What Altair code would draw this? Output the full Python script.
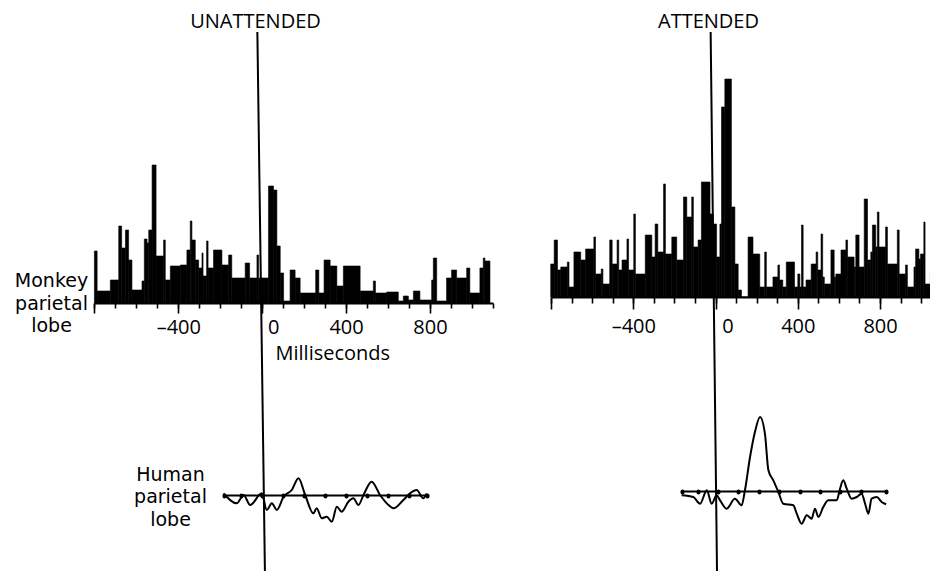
import altair as alt
import pandas as pd

FONT = "Open Sans"
SIDE_FONT = "DejaVu Sans"

# ---------------- data ----------------
# Monkey parietal lobe, UNATTENDED: histogram bins (ms start, ms end, height)
left_start = [-800, -787, -724, -684, -670, -652, -637, -621, -573, -562, -549, -541, -525, -506, -470, -462,
              -438, -390, -359, -343, -335, -319, -303, -287, -282, -265, -258, -232, -192, -160, -145, -81,
              -60, -25, -17, 30, 54, 70, 86, 102, 133, 157, 181, 255, 270, 295, 324, 356, 387, 467, 530, 540,
              594, 649, 673, 697, 721, 752, 808, 816, 832, 879, 903, 927, 975, 990, 1038, 1054, 1062]
left_end = [-787, -724, -684, -670, -652, -637, -621, -573, -562, -549, -541, -525, -506, -470, -462, -438,
            -390, -359, -343, -335, -319, -303, -287, -282, -265, -258, -232, -192, -160, -145, -81, -60,
            -25, -17, 30, 54, 70, 86, 102, 133, 157, 181, 255, 270, 295, 324, 356, 387, 467, 530, 540, 594,
            649, 673, 697, 721, 752, 808, 816, 832, 879, 903, 927, 975, 990, 1038, 1054, 1062, 1086]
left_val = [52, 12, 23, 77, 55, 73, 43, 13, 22, 64, 60, 73, 138, 47, 63, 23,
            37, 38, 53, 82, 63, 43, 35, 50, 27, 62, 35, 53, 38, 48, 25, 40,
            25, 48, 25, 117, 113, 57, 30, 2, 33, 25, 10, 33, 10, 43, 37, 17, 37, 12, 22, 10,
            11, 2, 7, 3, 12, 3, 23, 45, 2, 25, 33, 25, 35, 10, 35, 45, 42]

# Monkey parietal lobe, ATTENDED
right_start = [-802, -785, -769, -753, -721, -713, -689, -656, -632, -592, -584, -556, -548, -515, -503, -479,
               -471, -455, -431, -423, -398, -390, -342, -310, -294, -281, -253, -244, -213, -189, -156, -140,
               -116, -108, -85, -69, -27, -11, 5, 21, 29, 45, 77, 94, 110, 126, 158, 182, 215, 239, 247, 279,
               303, 311, 327, 344, 384, 400, 410, 418, 426, 440, 465, 489, 497, 513, 521, 529, 561, 577, 585,
               610, 634, 642, 674, 682, 698, 723, 739, 755, 763, 779, 787, 795, 827, 836, 884, 893, 924, 933,
               965, 973, 989, 997, 1013, 1019, 1045, 1053]
right_end = [-785, -769, -753, -721, -713, -689, -656, -632, -592, -584, -556, -548, -515, -503, -479, -471,
             -455, -431, -423, -398, -390, -342, -310, -294, -281, -253, -244, -213, -189, -156, -140, -116,
             -108, -85, -69, -27, -11, 5, 21, 29, 45, 77, 94, 110, 126, 158, 182, 215, 239, 247, 279, 303,
             311, 327, 344, 384, 400, 410, 418, 426, 440, 465, 489, 497, 513, 521, 529, 561, 577, 585, 610,
             634, 642, 674, 682, 698, 723, 739, 755, 763, 779, 787, 795, 827, 836, 884, 893, 924, 933, 965,
             973, 989, 997, 1013, 1019, 1045, 1053, 1076]
right_val = [33, 57, 27, 30, 35, 10, 45, 37, 48, 60, 23, 28, 13, 57, 33, 57,
             27, 37, 58, 27, 83, 23, 62, 40, 73, 45, 113, 43, 60, 37, 100, 80,
             100, 50, 57, 115, 83, 73, 40, 73, 190, 218, 90, 33, 7, 0, 60, 43, 10, 45, 10, 20,
             32, 17, 10, 35, 10, 23, 10, 72, 10, 17, 33, 45, 27, 63, 20, 13, 47, 20, 23,
             47, 57, 40, 30, 62, 30, 98, 37, 45, 72, 50, 85, 50, 70, 33, 67, 23, 32, 10,
             30, 48, 38, 43, 75, 13, 25, 35]

# Human parietal lobe ERP traces (ms, amplitude)
erp_left_t = [-184, -121, -89, -57, -2, 22, 46, 70, 102, 141, 173, 205, 244, 260, 284, 308, 332, 356, 379,
              411, 435, 459, 483, 522, 562, 602, 626, 673, 705, 737, 768, 784]
erp_left_v = [1.7, -8.3, 0, -10, 1.7, -15, -8.3, -15, -1.7, 5, 16.7, 0, -18.3, -13.3, -23.3, -21.7, -26.7,
              -11.7, -16.7, -6.7, -3.3, -10, 0, 13.3, 0, -10, -13.3, -5, 1.7, 5, -3.3, 1.7]
erp_right_t = [-178, -121, -88, -55, -31, -7, 10, 42, 83, 116, 132, 157, 181, 206, 230, 247, 271, 296, 320,
               369, 386, 410, 435, 459, 475, 492, 516, 541, 582, 598, 614, 631, 655, 680, 704, 721, 737, 753,
               778, 802, 824]
erp_right_v = [-4.3, -6, -12.7, 0.7, -12.7, -4.3, -9.3, -17.7, -7.7, -14.3, 0.7, 34, 59, 74, 57.3, 20.7,
               10.7, -1, -12.7, -14.3, -22.7, -32.7, -24.3, -27.7, -17.7, -26, -16, -9.3, -9.3, 2.3, 10.7,
               2.3, -7.7, -6, -2.7, -12.7, -22.7, -7.7, -6, -11, -13.3]

# stimulus-onset line (ms at top, ms at bottom of the scanned line)
vline_left = [-23, 13]
vline_right = [-24, 7]

panel_titles = ["UNATTENDED", "ATTENDED"]
minor_ticks = list(range(-800, 1101, 100))
major_ticks = [-800, -400, 0, 400, 800]
erp_left_dots = [-184, -100, 0, 100, 200, 300, 400, 500, 600, 700, 784]
erp_right_dots = [-178, -100, 0, 100, 200, 300, 400, 500, 600, 700, 824]

# ---------------- frames ----------------
W, H = 922, 563


def sc(domain, rng):
    return alt.Scale(domain=domain, range=rng, nice=False, zero=False)


LX = ([-800, 1100], [86.4, 484.9])
RX = ([-800, 1043], [543.1, 922.0])
LY = ([0, 150], [295, 145])
RY = ([0, 220], [289, 69])
LEX = ([-184, 784], [215.6, 418.6])
LEY = ([-30, 30], [517, 457])
REX = ([-178, 824], [673.7, 878.1])
REY = ([-40, 80], [523, 403])
FY = ([0, 1], [563, 24])

lb = pd.DataFrame({"s": left_start, "e": left_end, "v": left_val})
rb = pd.DataFrame({"s": right_start, "e": right_end, "v": right_val})
le = pd.DataFrame({"t": erp_left_t, "v": erp_left_v})
re_ = pd.DataFrame({"t": erp_right_t, "v": erp_right_v})
vl = pd.DataFrame({"a": [vline_left[0]], "b": [vline_left[1]]})
vr = pd.DataFrame({"a": [vline_right[0]], "b": [vline_right[1]]})

label_expr = "datum.value == -800 ? '' : (datum.value < 0 ? '\u2013' + abs(datum.value) : '' + datum.value)"


def minor_axis(base_y, tick, title=None):
    kw = dict(orient="bottom", offset=base_y - H, values=minor_ticks, tickSize=tick, tickWidth=1.6,
              tickColor="black", domainColor="black", domainWidth=2, labels=False, grid=False)
    if title:
        kw.update(title=title, titleX=267, titleY=56, titleAlign="left", titleBaseline="alphabetic",
                  titleFont=FONT, titleFontSize=20, titleFontWeight="normal", titleColor="black")
    else:
        kw.update(title=None)
    return alt.Axis(**kw)


def major_axis(base_y, tick, pad, zero_shift):
    return alt.Axis(orient="bottom", offset=base_y - H, values=major_ticks, tickSize=tick, tickWidth=1.6,
                    tickColor="black", domain=False, grid=False, title=None, labelExpr=label_expr,
                    labelOffset={"condition": {"test": "datum.value == 0", "value": zero_shift}, "value": 0},
                    labelPadding=pad, labelFont=FONT, labelFontSize=20, labelColor="black",
                    labelFlush=False, labelOverlap=False)


def side_title(lines, tx, ty, lh):
    return alt.Axis(orient="left", offset=0, domain=False, ticks=False, labels=False, grid=False,
                    title=lines, titleAngle=0, titleX=tx, titleY=ty, titleAlign="center",
                    titleBaseline="alphabetic", titleLineHeight=lh, titleFont=SIDE_FONT, titleFontSize=19,
                    titleFontWeight="normal", titleColor="black")


def top_title(text, tx):
    return alt.Axis(orient="top", offset=0, domain=False, ticks=False, labels=False, grid=False,
                    title=text, titleX=tx, titleY=19, titleAlign="center", titleBaseline="alphabetic",
                    titleFont=FONT, titleFontSize=20, titleFontWeight="normal", titleColor="black")


def bars(df, X, Y, xaxis, yaxis, opacity=1):
    return alt.Chart(df).mark_rect(color="black", stroke="black", strokeWidth=0.6, opacity=opacity).encode(
        x=alt.X("s:Q", scale=sc(*X), axis=xaxis),
        x2="e:Q",
        y=alt.Y("v:Q", scale=sc(*Y), axis=yaxis),
        y2=alt.datum(0),
    )


left_bars = bars(lb, LX, LY, minor_axis(295, 5, "Milliseconds"),
                 side_title(["Monkey", "parietal", "lobe"], 43, 278.5, 22.5))
left_major = bars(lb, LX, LY, major_axis(295, 10, 4, 11), None, opacity=0)
right_bars = bars(rb, RX, RY, minor_axis(289, 6), None)
right_major = bars(rb, RX, RY, major_axis(289, 12, 7, 12), None, opacity=0)


def erp(df, X, Y, base_y, dots, yaxis):
    xaxis = alt.Axis(orient="bottom", offset=base_y - H, values=dots, tickSize=1, tickWidth=4,
                     tickCap="round", tickColor="black", domainColor="black", domainWidth=2,
                     labels=False, grid=False, title=None)
    return alt.Chart(df).mark_line(color="black", strokeWidth=2, interpolate="monotone").encode(
        x=alt.X("t:Q", scale=sc(*X), axis=xaxis),
        y=alt.Y("v:Q", scale=sc(*Y), axis=yaxis),
    )


left_erp = erp(le, LEX, LEY, 487, erp_left_dots, side_title(["Human", "parietal", "lobe"], 162, 472, 22.5))
right_erp = erp(re_, REX, REY, 483, erp_right_dots, None)


def vline(df, X, title, tx):
    return alt.Chart(df).mark_rule(color="black", strokeWidth=2).encode(
        x=alt.X("a:Q", scale=sc(*X), axis=top_title(title, tx)),
        x2="b:Q",
        y=alt.YDatum(1, scale=sc(*FY), axis=None),
        y2=alt.datum(0),
    )


left_line = vline(vl, LX, panel_titles[0], 247)
right_line = vline(vr, RX, panel_titles[1], 700)

chart = alt.layer(left_bars, left_major, right_bars, right_major, left_erp, right_erp,
                  left_line, right_line).resolve_scale(x="independent", y="independent").properties(
    width=W, height=H, autosize=alt.AutoSizeParams(type="none"), padding=0,
    background="white").configure_view(stroke=None)

chart.save("out.html", embed_options={"renderer": "svg", "actions": False})
